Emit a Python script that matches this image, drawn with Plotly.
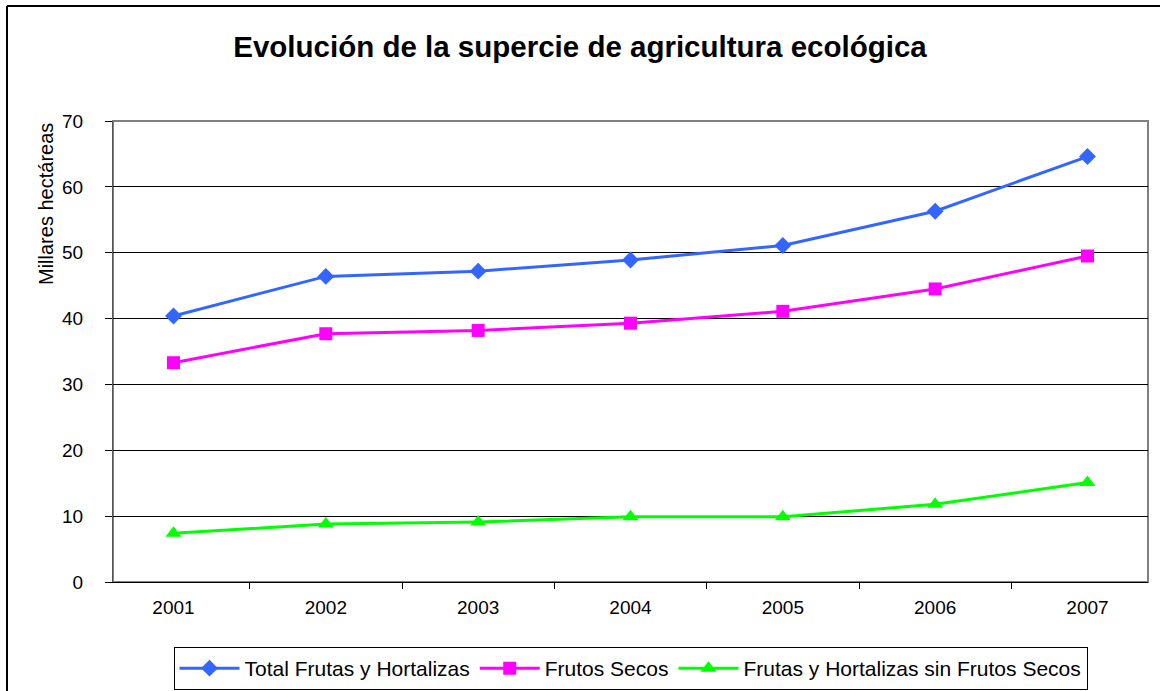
import plotly.graph_objects as go

years = ["2001", "2002", "2003", "2004", "2005", "2006", "2007"]
total = [40.4, 46.4, 47.2, 48.9, 51.1, 56.3, 64.6]
secos = [33.3, 37.7, 38.2, 39.3, 41.1, 44.5, 49.5]
sin_secos = [7.4, 8.8, 9.1, 9.9, 9.9, 11.8, 15.1]
names = ["Total Frutas y Hortalizas", "Frutos Secos", "Frutas y Hortalizas sin Frutos Secos"]
colors = ["#3366FF", "#FF00FF", "#00FF00"]
symbols = ["diamond", "square", "triangle-up"]

W, H = 1160, 691
L, R, T, B = 113, 1148, 121, 582

fig = go.Figure()
for vals, nm, c, s in zip([total, secos, sin_secos], names, colors, symbols):
    fig.add_trace(go.Scatter(x=years, y=vals, name=nm, mode="lines+markers",
                             line=dict(color=c, width=3),
                             marker=dict(symbol=s, size=13 if s != "triangle-up" else 14, color=c)))

def px(x):
    return (x - L) / (R - L)

def py(y):
    return (B - y) / (B - T)

fig.update_layout(
    width=W, height=H,
    margin=dict(l=L, r=W - R, t=T, b=H - B, autoexpand=False),
    paper_bgcolor="white", plot_bgcolor="white",
    font=dict(family="Liberation Sans, Arial, sans-serif", color="black", size=19),
    title=dict(text="<b>Evolución de la supercie de agricultura ecológica</b>",
               x=0.5, xanchor="center", y=1 - 47 / H, yanchor="middle",
               font=dict(size=29.5, color="black")),
    showlegend=True,
    legend=dict(orientation="h", x=0.5, xanchor="center", y=py(647), yanchor="top",
                bordercolor="black", borderwidth=1, bgcolor="white",
                font=dict(size=21), itemwidth=60, tracegroupgap=0),
    xaxis=dict(type="category", showgrid=False, showline=True, linecolor="black", linewidth=1,
               ticks="outside", tickson="boundaries", ticklen=6, tickcolor="black",
               zeroline=False, tickfont=dict(size=19), ticklabelstandoff=8),
    yaxis=dict(range=[0, 70], dtick=10, showgrid=True, gridcolor="black", gridwidth=1,
               showline=True, linecolor="#555555", linewidth=1, ticks="outside", ticklen=7,
               tickcolor="black", zeroline=False, tickfont=dict(size=19), ticklabelstandoff=18),
    annotations=[dict(text="Millares hectáreas", textangle=-90, xref="paper", yref="paper",
                      x=px(46), y=py(204), xanchor="center", yanchor="middle",
                      showarrow=False, font=dict(size=20, color="black"))],
    shapes=[
        dict(type="rect", xref="paper", yref="paper", x0=0, x1=1, y0=0, y1=1,
             line=dict(color="#808080", width=2), layer="below"),
        dict(type="line", xref="paper", yref="paper", x0=px(7), x1=px(1170), y0=py(6), y1=py(6),
             line=dict(color="black", width=2)),
        dict(type="line", xref="paper", yref="paper", x0=px(7), x1=px(7), y0=py(6), y1=py(700),
             line=dict(color="black", width=2)),
    ],
)
fig.write_html("out.html", config={"displayModeBar": False},
               post_script="document.body.style.margin='0';document.body.style.overflow='hidden';")
